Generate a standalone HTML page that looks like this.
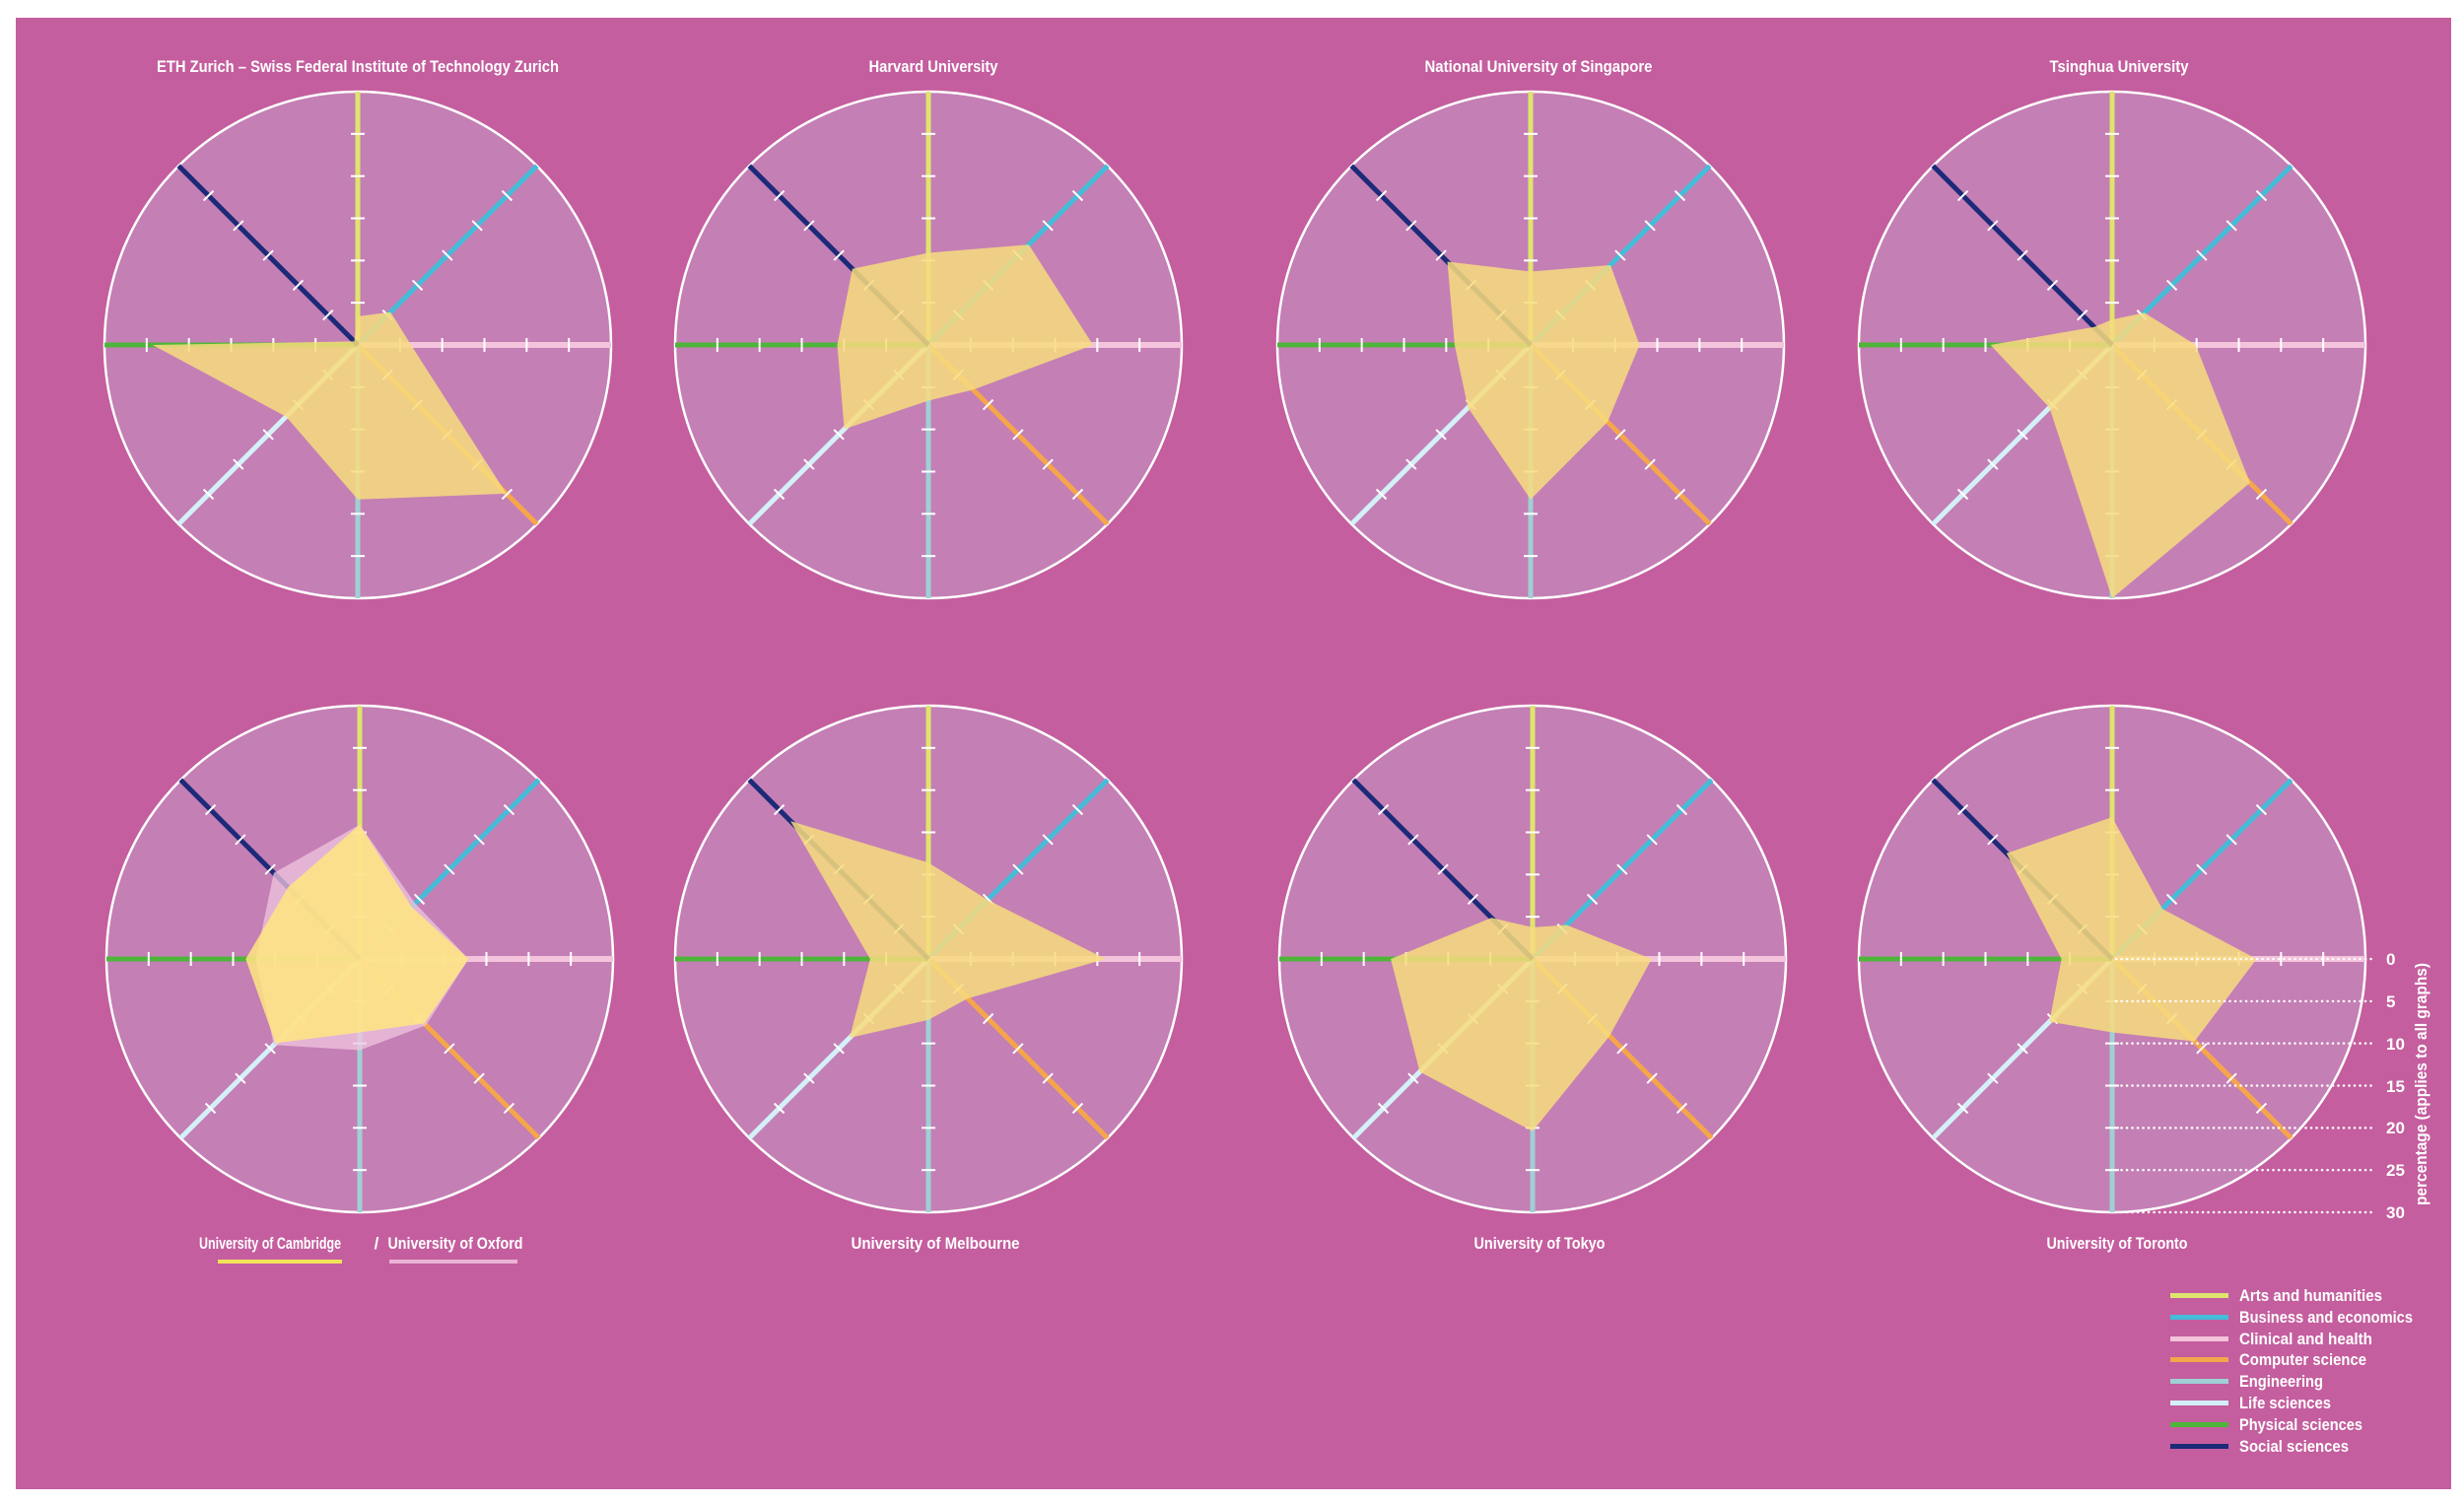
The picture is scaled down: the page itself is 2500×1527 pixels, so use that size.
<!DOCTYPE html>
<html><head><meta charset="utf-8">
<style>
html,body{margin:0;padding:0;background:#fff;}
svg{display:block;}
text{font-family:"Liberation Sans",sans-serif;font-weight:bold;fill:#fff;}
</style></head>
<body>
<svg id="s" width="2500" height="1527" viewBox="0 0 2500 1527" xmlns="http://www.w3.org/2000/svg">
<rect x="0" y="0" width="2500" height="1527" fill="#ffffff"/>
<rect x="16" y="18" width="2471" height="1493" fill="#c45e9e"/>
<g id="charts"></g>
<text x="363" y="73" font-size="17" text-anchor="middle" textLength="408" lengthAdjust="spacingAndGlyphs">ETH Zurich – Swiss Federal Institute of Technology Zurich</text>
<text x="947" y="73" font-size="17" text-anchor="middle" textLength="131" lengthAdjust="spacingAndGlyphs">Harvard University</text>
<text x="1561" y="73" font-size="17" text-anchor="middle" textLength="231" lengthAdjust="spacingAndGlyphs">National University of Singapore</text>
<text x="2150" y="73" font-size="17" text-anchor="middle" textLength="141" lengthAdjust="spacingAndGlyphs">Tsinghua University</text>
<text x="274" y="1267" font-size="17" text-anchor="middle" textLength="144" lengthAdjust="spacingAndGlyphs">University of Cambridge</text>
<text x="382" y="1267" font-size="17" text-anchor="middle">/</text>
<text x="462" y="1267" font-size="17" text-anchor="middle" textLength="137" lengthAdjust="spacingAndGlyphs">University of Oxford</text>
<rect x="221" y="1278" width="126" height="4" fill="#f2e25a"/>
<rect x="395" y="1278" width="130" height="4" fill="#eab3d6"/>
<text x="949" y="1267" font-size="17" text-anchor="middle" textLength="171" lengthAdjust="spacingAndGlyphs">University of Melbourne</text>
<text x="1562" y="1267" font-size="17" text-anchor="middle" textLength="133" lengthAdjust="spacingAndGlyphs">University of Tokyo</text>
<text x="2148" y="1267" font-size="17" text-anchor="middle" textLength="143" lengthAdjust="spacingAndGlyphs">University of Toronto</text>
<g font-size="17">
<text x="2421" y="979">0</text>
<text x="2421" y="1022">5</text>
<text x="2421" y="1065">10</text>
<text x="2421" y="1108">15</text>
<text x="2421" y="1150">20</text>
<text x="2421" y="1193">25</text>
<text x="2421" y="1236">30</text>
</g>
<text transform="translate(2462,1100) rotate(-90)" font-size="17" text-anchor="middle" textLength="246" lengthAdjust="spacingAndGlyphs">percentage (applies to all graphs)</text>
<g font-size="17" transform="translate(0,-4)">
<rect x="2202" y="1316" width="59" height="5" fill="#dfe46c"/><text x="2272" y="1324" textLength="145" lengthAdjust="spacingAndGlyphs">Arts and humanities</text>
<rect x="2202" y="1338" width="59" height="5" fill="#45bcd8"/><text x="2272" y="1346" textLength="176" lengthAdjust="spacingAndGlyphs">Business and economics</text>
<rect x="2202" y="1360" width="59" height="5" fill="#f4c3dc"/><text x="2272" y="1368" textLength="135" lengthAdjust="spacingAndGlyphs">Clinical and health</text>
<rect x="2202" y="1381" width="59" height="5" fill="#f6a64a"/><text x="2272" y="1389" textLength="129" lengthAdjust="spacingAndGlyphs">Computer science</text>
<rect x="2202" y="1403" width="59" height="5" fill="#9fd0d4"/><text x="2272" y="1411" textLength="85" lengthAdjust="spacingAndGlyphs">Engineering</text>
<rect x="2202" y="1425" width="59" height="5" fill="#d4f0f8"/><text x="2272" y="1433" textLength="93" lengthAdjust="spacingAndGlyphs">Life sciences</text>
<rect x="2202" y="1447" width="59" height="5" fill="#4fb53a"/><text x="2272" y="1455" textLength="125" lengthAdjust="spacingAndGlyphs">Physical sciences</text>
<rect x="2202" y="1469" width="59" height="5" fill="#1c2a78"/><text x="2272" y="1477" textLength="111" lengthAdjust="spacingAndGlyphs">Social sciences</text>
</g>
</svg>
<script>
(function(){
var NS="http://www.w3.org/2000/svg";
var g=document.getElementById("charts");
var R=257;
var ang=[-90,-45,0,45,90,135,180,225];
var cols=["#dfe46c","#45bcd8","#f4c3dc","#f6a64a","#9fd0d4","#d4f0f8","#4fb53a","#1c2a78"];
var charts=[
 {c:[363,350],d:[0.113,0.183,0.21,0.83,0.61,0.40,0.81,0.02]},
 {c:[942,350],d:[0.364,0.56,0.65,0.25,0.22,0.47,0.36,0.425]},
 {c:[1553,350],d:[0.29,0.446,0.43,0.43,0.61,0.35,0.30,0.465]},
 {c:[2143,350],d:[0.10,0.18,0.33,0.77,1.0,0.35,0.48,0.10]},
 {c:[365,973],d:[0.53,0.29,0.43,0.36,0.29,0.47,0.45,0.40],o:[0.53,0.31,0.43,0.37,0.36,0.48,0.41,0.48]},
 {c:[942,973],d:[0.38,0.33,0.70,0.22,0.24,0.44,0.23,0.77]},
 {c:[1555,973],d:[0.125,0.19,0.47,0.43,0.68,0.63,0.56,0.23]},
 {c:[2143,973],d:[0.56,0.28,0.57,0.46,0.29,0.35,0.20,0.59]}
];
function el(n,a){var e=document.createElementNS(NS,n);for(var k in a)e.setAttribute(k,a[k]);g.appendChild(e);return e;}
charts.forEach(function(ch,idx){
 var cx=ch.c[0],cy=ch.c[1];
 el("circle",{cx:cx,cy:cy,r:R,fill:"#c47fb5",stroke:"#ffffff","stroke-width":2.5});
 for(var i=0;i<8;i++){
  var a=ang[i]*Math.PI/180,ux=Math.cos(a),uy=Math.sin(a);
  el("line",{x1:cx,y1:cy,x2:cx+ux*R,y2:cy+uy*R,stroke:cols[i],"stroke-width":(i==2?6:5)});
  for(var t=1;t<=5;t++){
   var px=cx+ux*R*t/6,py=cy+uy*R*t/6;
   el("line",{x1:px-uy*7,y1:py+ux*7,x2:px+uy*7,y2:py-ux*7,stroke:"#ffffff","stroke-width":2});
  }
 }
 function poly(d,fill,op){
  var pts=[];for(var i=0;i<8;i++){var a=ang[i]*Math.PI/180;pts.push((cx+Math.cos(a)*R*d[i]).toFixed(1)+","+(cy+Math.sin(a)*R*d[i]).toFixed(1));}
  el("polygon",{points:pts.join(" "),fill:fill,"fill-opacity":op});
 }
 if(ch.o){poly(ch.o,"#f0c6e0",0.75);poly(ch.d,"#ffe680",0.85);}
 else poly(ch.d,"#f7dc7e",0.85);
 if(idx==7){
  for(var k=0;k<=6;k++){
   var y=cy+k*R/6;
   el("line",{x1:cx+4,y1:y,x2:2410,y2:y,stroke:"#ffffff","stroke-width":2.5,"stroke-dasharray":"0.1 5.4","stroke-linecap":"round"});
  }
 }
});
})();
</script>
</body></html>
